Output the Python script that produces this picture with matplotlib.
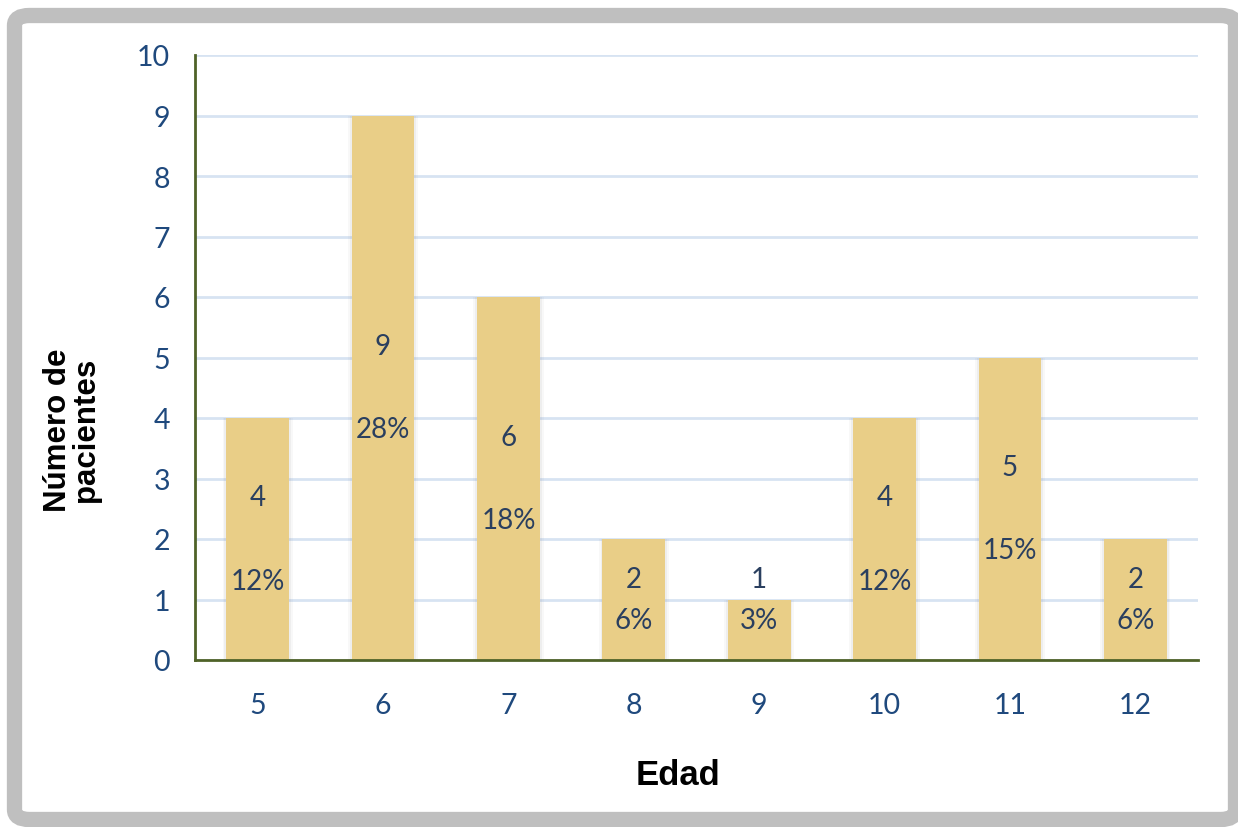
import matplotlib.pyplot as plt
from matplotlib.patches import FancyBboxPatch

# -- datos --
edades = ['5', '6', '7', '8', '9', '10', '11', '12']
pacientes = [4, 9, 6, 2, 1, 4, 5, 2]
porcentajes = ['12%', '28%', '18%', '6%', '3%', '12%', '15%', '6%']

color_barra = '#E9CE87'
color_texto = '#1F497D'
color_etiqueta = '#2A3F5F'
color_eje = '#4F6228'
color_rejilla = '#D7E3F2'

fig = plt.figure(figsize=(12.38, 8.28), dpi=100)

# marco gris redondeado alrededor del grafico
marco = FancyBboxPatch((14.5 / 1238, 7.5 / 828), 1221 / 1238, 804 / 828,
                       boxstyle='round,pad=0,rounding_size=0.012',
                       transform=fig.transFigure, facecolor='white',
                       edgecolor='#BFBFBF', linewidth=11, zorder=-10)
fig.patches.append(marco)

ax = fig.add_axes([195 / 1238, 167 / 828, 1003 / 1238, 605 / 828])
ax.set_facecolor('none')
ax.set_zorder(2)

x = range(len(edades))

# sombra suave de las barras
for w, a in [(0.56, 0.05), (0.53, 0.08)]:
    ax.bar(x, pacientes, width=w, color='#808080', alpha=a, zorder=2)
ax.bar(x, pacientes, width=0.5, color=color_barra, zorder=3)

# etiquetas de datos: valor y porcentaje
for i, (v, p) in enumerate(zip(pacientes, porcentajes)):
    centro = max(v / 2, 1.0)
    sep = 15 if v <= 2 else 30
    ax.annotate(str(v), (i, centro), xytext=(0, sep), textcoords='offset points',
                ha='center', va='center', fontsize=20, family='Lato',
                color=color_etiqueta, zorder=4)
    ax.annotate(p, (i, centro), xytext=(0, -sep), textcoords='offset points',
                ha='center', va='center', fontsize=20, family='Lato',
                color=color_etiqueta, zorder=4)

ax.set_xlim(-0.5, len(edades) - 0.5)
ax.set_ylim(0, 10)
ax.set_yticks(range(0, 11))
ax.set_xticks(list(x))
ax.set_xticklabels(edades)

ax.grid(axis='y', color=color_rejilla, linewidth=2, zorder=1)
ax.set_axisbelow(True)

for lado in ['top', 'right']:
    ax.spines[lado].set_visible(False)
for lado in ['left', 'bottom']:
    ax.spines[lado].set_color(color_eje)
    ax.spines[lado].set_linewidth(2)
    ax.spines[lado].set_zorder(5)

ax.tick_params(axis='both', length=0, labelsize=20.5, labelcolor=color_texto)
ax.tick_params(axis='y', pad=18)
ax.tick_params(axis='x', pad=23)
for t in ax.get_xticklabels() + ax.get_yticklabels():
    t.set_family('Lato')

fig.text(72 / 1238, (828 - 430) / 828, 'Número de\npacientes', rotation=90,
         ha='center', va='center', multialignment='center',
         fontsize=22.5, fontweight='bold', family='Liberation Sans',
         linespacing=0.9)
fig.text(678 / 1238, (828 - 776) / 828, 'Edad', ha='center', va='center',
         fontsize=25, fontweight='bold', family='Liberation Sans')

fig.savefig('out.png', dpi=100)
